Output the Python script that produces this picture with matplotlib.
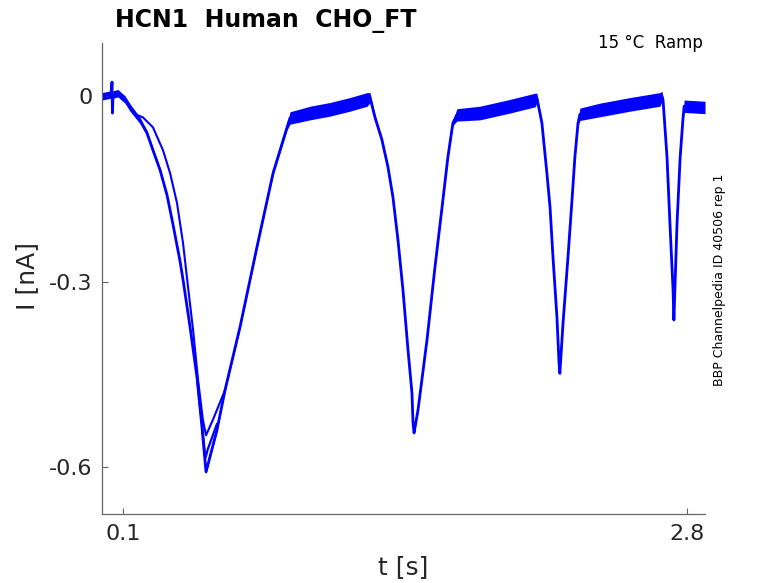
import matplotlib

matplotlib.use("Agg")
import matplotlib.pyplot as plt  # noqa: E402
import numpy as np  # noqa: E402

# main (deepest) sweep, one line per stretch of the ramp
TIME = [0.000, 0.029, 0.043, 0.048, 0.050, 0.053, 0.077, 0.086, 0.110,
        0.134, 0.182, 0.215, 0.244, 0.278, 0.311, 0.340, 0.373, 0.388, 0.421, 0.455, 0.479, 0.493, 0.498,
        0.550, 0.589, 0.661, 0.742, 0.819, 0.886,
        0.900, 0.996, 1.091, 1.187, 1.269, 1.283,
        1.307, 1.340, 1.369, 1.393, 1.417, 1.441, 1.465, 1.484, 1.489, 1.494, 1.513, 1.556, 1.594, 1.628, 1.656, 1.680,
        1.699, 1.809, 1.953, 2.073, 2.082,
        2.106, 2.130, 2.145, 2.159, 2.178, 2.188, 2.192, 2.207, 2.231, 2.250, 2.264, 2.279,
        2.288, 2.384, 2.528, 2.671, 2.681,
        2.686, 2.705, 2.719, 2.734, 2.738, 2.753, 2.768, 2.782,
        2.787, 2.887]
CURRENT = [-0.001, 0.001, 0.002, 0.022, -0.028, 0.002, 0.004, 0.001, -0.006,
           -0.019, -0.040, -0.060, -0.088, -0.120, -0.160, -0.208, -0.266, -0.297, -0.372, -0.455, -0.536, -0.589, -0.607,
           -0.540, -0.475, -0.373, -0.244, -0.125, -0.051,
           -0.036, -0.028, -0.022, -0.014, -0.006, -0.003,
           -0.035, -0.071, -0.115, -0.164, -0.233, -0.314, -0.410, -0.480, -0.528, -0.544, -0.507, -0.394, -0.277, -0.180, -0.099, -0.044,
           -0.031, -0.028, -0.017, -0.007, -0.004,
           -0.044, -0.125, -0.180, -0.260, -0.357, -0.431, -0.448, -0.368, -0.260, -0.169, -0.099, -0.044,
           -0.030, -0.023, -0.014, -0.006, -0.001,
           -0.007, -0.099, -0.206, -0.314, -0.362, -0.206, -0.099, -0.035,
           -0.017, -0.019]
# half-width of the noisy band around the sweeps [nA]
NOISE = [0.006, 0.006, 0.006, 0.002, 0.002, 0.006, 0.006, 0.006, 0.006,
         0.006, 0.005, 0.004, 0.004, 0.003, 0.003, 0.003, 0.003, 0.003, 0.003, 0.003, 0.003, 0.003, 0.003,
         0.003, 0.003, 0.003, 0.003, 0.003, 0.004,
         0.010, 0.011, 0.011, 0.011, 0.011, 0.008,
         0.004, 0.003, 0.003, 0.003, 0.003, 0.003, 0.003, 0.003, 0.003, 0.003, 0.003, 0.003, 0.003, 0.003, 0.003, 0.004,
         0.010, 0.011, 0.011, 0.011, 0.008,
         0.004, 0.003, 0.003, 0.003, 0.003, 0.003, 0.003, 0.003, 0.003, 0.003, 0.003, 0.004,
         0.010, 0.011, 0.011, 0.011, 0.008,
         0.004, 0.003, 0.003, 0.003, 0.003, 0.003, 0.003, 0.004,
         0.010, 0.010]

# second outer sweep, only where it parts from the main one
TIME_B = [0.455, 0.479, 0.495, 0.507, 0.550]
CURRENT_B = [-0.455, -0.532, -0.585, -0.570, -0.530]

# inner (shallower) sweep over the first trough
TIME_C = [0.160, 0.196, 0.244, 0.292, 0.326, 0.359, 0.388, 0.412, 0.436, 0.460,
          0.483, 0.498, 0.531, 0.589]
CURRENT_C = [-0.030, -0.035, -0.051, -0.088, -0.125, -0.173, -0.238, -0.309, -0.378, -0.459,
             -0.523, -0.548, -0.523, -0.475]

XTICKS = [0.1, 2.8]
YTICKS = [0, -0.3, -0.6]
YTICKLABELS = ["0", "-0.3", "-0.6"]

BLUE = "#0000ff"
GREY = "#666666"
TXT = "#262626"

plt.rcParams["font.family"] = ["DejaVu Sans"]

fig = plt.figure(figsize=(7.78, 5.83), dpi=100, facecolor="white")
ax = fig.add_axes([0.1311, 0.1184, 0.7751, 0.8078])

t = np.array(TIME)
i = np.array(CURRENT)
n = np.array(NOISE)
ax.fill_between(t, i - n, i + n, color=BLUE, linewidth=0)
ax.plot(t, i, color=BLUE, lw=2.0)
ax.plot(TIME_B, CURRENT_B, color=BLUE, lw=1.6)
ax.plot(TIME_C, CURRENT_C, color=BLUE, lw=1.5)

ax.set_xlim(0, 2.887)
ax.set_ylim(-0.675, 0.085)
ax.set_xticks(XTICKS)
ax.set_xticklabels([f"{x:.1f}" for x in XTICKS])
ax.set_yticks(YTICKS)
ax.set_yticklabels(YTICKLABELS)

for side in ("top", "right"):
    ax.spines[side].set_visible(False)
for side in ("left", "bottom"):
    ax.spines[side].set_color(GREY)
    ax.spines[side].set_linewidth(0.9)
ax.tick_params(direction="in", length=4.5, width=0.8, color=GREY,
               labelsize=16, labelcolor=TXT, pad=7)

fig.text(27 / 778, 1 - 276 / 583, "I [nA]", rotation=90, ha="center", va="center",
         fontsize=18, color=TXT)
fig.text(403 / 778, 1 - 567 / 583, "t [s]", ha="center", va="center",
         fontsize=18, color=TXT)
fig.text(115 / 778, 1 - 27 / 583, "HCN1  Human  CHO_FT", ha="left", va="baseline",
         fontsize=17, fontweight="bold", color="black")
fig.text(703 / 778, 1 - 48 / 583, "15 °C  Ramp", ha="right", va="baseline",
         fontsize=12, color="black")
fig.text(719 / 778, 1 - 280 / 583, "BBP Channelpedia ID 40506 rep 1", rotation=90,
         ha="center", va="center", fontsize=9, color="black")

fig.savefig("out.png", dpi=100, facecolor="white")
